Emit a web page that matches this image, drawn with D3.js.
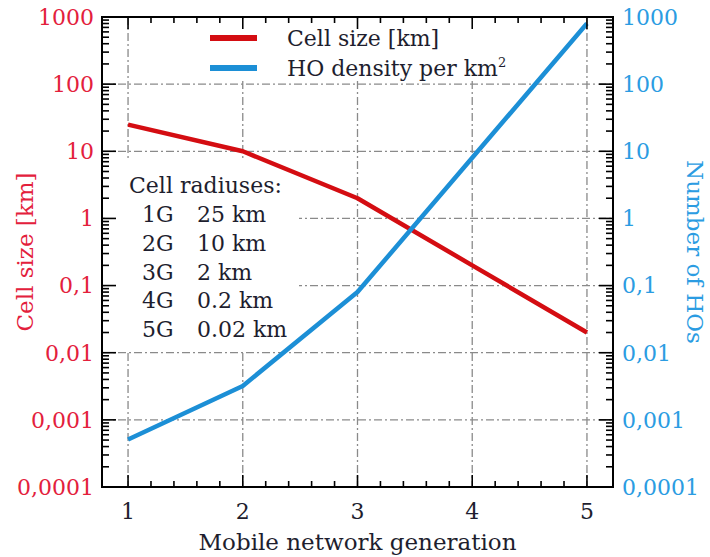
<!DOCTYPE html>
<html>
<head>
<meta charset="utf-8">
<script src="https://cdn.jsdelivr.net/npm/d3@7/dist/d3.min.js"></script>
<style>
  html, body { margin: 0; padding: 0; background: #fff; }
  svg { display: block; font-family: "DejaVu Serif", serif; }
</style>
</head>
<body>
<svg id="chart" width="710" height="557"></svg>
<script>
// Mobile network generations and the two plotted series
const generations = [1, 2, 3, 4, 5];
const cellSize = [25, 10, 2, 0.2, 0.02];            // km
const hoDensity = [0.00051, 0.0032, 0.08, 8, 800];  // handovers per km²

// Decade ticks on both log axes and their labels (comma decimal separator)
const yTickValues = [0.0001, 0.001, 0.01, 0.1, 1, 10, 100, 1000];
const yTickLabels = ["0,0001", "0,001", "0,01", "0,1", "1", "10", "100", "1000"];

// Inset table of cell radii
const radiusGens = ["1G", "2G", "3G", "4G", "5G"];
const radiusText = ["25 km", "10 km", "2 km", "0.2 km", "0.02 km"];

const RED = "#d40d12";
const RED_TXT = "#e3203c";
const BLUE = "#1c8fd6";
const BLUE_TXT = "#2b9ce2";
const INK = "#1e1e2e";
const GRID = "#8a8a8a";

const W = 710, H = 557;
const margin = { top: 17, right: 97, bottom: 70, left: 102 };
const iw = W - margin.left - margin.right;
const ih = H - margin.top - margin.bottom;

const svg = d3.select("#chart");
const g = svg.append("g").attr("transform", `translate(${margin.left},${margin.top})`);

const x = d3.scaleLinear().domain([0.773, 5.227]).range([0, iw]);
const y = d3.scaleLog().domain([0.0001, 1000]).range([ih, 0]);

// Dash-dot grid at each integer generation and each decade
g.append("g").selectAll("line").data(generations).join("line")
  .attr("x1", d => x(d)).attr("x2", d => x(d))
  .attr("y1", 0).attr("y2", ih)
  .attr("stroke", GRID).attr("stroke-width", 1.3)
  .attr("stroke-dasharray", "8,3,2,3");
g.append("g").selectAll("line").data(yTickValues.slice(1, -1)).join("line")
  .attr("x1", 0).attr("x2", iw)
  .attr("y1", d => y(d)).attr("y2", d => y(d))
  .attr("stroke", GRID).attr("stroke-width", 1.3)
  .attr("stroke-dasharray", "8,3,2,3");

// White panels behind the legend and the radius table
g.append("rect").attr("x", 195 - margin.left).attr("y", 2)
  .attr("width", 295).attr("height", 62).attr("fill", "#fff");
g.append("rect").attr("x", 3).attr("y", 160 - margin.top)
  .attr("width", 194).attr("height", 190).attr("fill", "#fff");

// Series lines
const line = (vals) => d3.line().x((d, i) => x(generations[i])).y(d => y(d))(vals);
g.append("path").attr("d", line(cellSize))
  .attr("fill", "none").attr("stroke", RED).attr("stroke-width", 4.5)
  .attr("stroke-linejoin", "round");
g.append("path").attr("d", line(hoDensity))
  .attr("fill", "none").attr("stroke", BLUE).attr("stroke-width", 4.5)
  .attr("stroke-linejoin", "round");

// Minor tick positions (2..9 within each decade)
const minorY = [];
for (let e = -4; e < 3; e++) for (let m = 2; m <= 9; m++) minorY.push(m * Math.pow(10, e));
const minorX = d3.range(1, 5.001, 0.2).filter(v => Math.abs(v - Math.round(v)) > 1e-6);

const tickG = g.append("g").attr("stroke", "#000").attr("stroke-width", 1.6);
// bottom and top ticks (pointing inward)
[[ih, -1], [0, 1]].forEach(([yy, dir]) => {
  tickG.append("g").selectAll("line").data(generations).join("line")
    .attr("x1", d => x(d)).attr("x2", d => x(d))
    .attr("y1", yy).attr("y2", yy + dir * 12);
  tickG.append("g").selectAll("line").data(minorX).join("line")
    .attr("x1", d => x(d)).attr("x2", d => x(d))
    .attr("y1", yy).attr("y2", yy + dir * 6);
});
// left and right ticks (pointing inward)
[[0, 1], [iw, -1]].forEach(([xx, dir]) => {
  tickG.append("g").selectAll("line").data(yTickValues).join("line")
    .attr("y1", d => y(d)).attr("y2", d => y(d))
    .attr("x1", xx).attr("x2", xx + dir * 14);
  tickG.append("g").selectAll("line").data(minorY).join("line")
    .attr("y1", d => y(d)).attr("y2", d => y(d))
    .attr("x1", xx).attr("x2", xx + dir * 7);
});

// Frame
g.append("rect").attr("x", 0).attr("y", 0).attr("width", iw).attr("height", ih)
  .attr("fill", "none").attr("stroke", "#000").attr("stroke-width", 2);

// Tick labels
const fs = 22;
g.append("g").selectAll("text").data(generations).join("text")
  .attr("x", d => x(d)).attr("y", ih + 32)
  .attr("text-anchor", "middle").attr("font-size", fs).attr("fill", INK)
  .text(d => d);
g.append("g").selectAll("text").data(yTickValues).join("text")
  .attr("x", -8).attr("y", d => y(d)).attr("dy", "0.36em")
  .attr("text-anchor", "end").attr("font-size", fs).attr("fill", RED_TXT)
  .text((d, i) => yTickLabels[i]);
g.append("g").selectAll("text").data(yTickValues).join("text")
  .attr("x", iw + 9).attr("y", d => y(d)).attr("dy", "0.36em")
  .attr("text-anchor", "start").attr("font-size", fs).attr("fill", BLUE_TXT)
  .text((d, i) => yTickLabels[i]);

// Axis titles
svg.append("text")
  .attr("transform", `translate(33,${margin.top + ih / 2}) rotate(-90)`)
  .attr("text-anchor", "middle").attr("font-size", 23).attr("fill", RED_TXT)
  .text("Cell size [km]");
svg.append("text")
  .attr("transform", `translate(687,${margin.top + ih / 2}) rotate(90)`)
  .attr("text-anchor", "middle").attr("font-size", 23).attr("fill", BLUE_TXT)
  .text("Number of HOs");
svg.append("text")
  .attr("x", margin.left + x(3)).attr("y", 550)
  .attr("text-anchor", "middle").attr("font-size", 23).attr("fill", INK)
  .text("Mobile network generation");

// Legend
const legend = svg.append("g");
const legendItems = [
  { color: RED, y: 38 },
  { color: BLUE, y: 68 }
];
legend.selectAll("line").data(legendItems).join("line")
  .attr("x1", 210).attr("x2", 257)
  .attr("y1", d => d.y).attr("y2", d => d.y)
  .attr("stroke", d => d.color).attr("stroke-width", 6);
legend.append("text").attr("x", 287).attr("y", 46)
  .attr("font-size", fs).attr("fill", INK).text("Cell size [km]");
const t2 = legend.append("text").attr("x", 287).attr("y", 76)
  .attr("font-size", fs).attr("fill", INK);
t2.append("tspan").text("HO density per km");
t2.append("tspan").attr("font-size", 13).attr("dy", -9).text("2");

// Radius table
const table = svg.append("g").attr("font-size", fs).attr("fill", INK);
table.append("text").attr("x", 129).attr("y", 193).text("Cell radiuses:");
table.selectAll("text.gen").data(radiusGens).join("text").attr("class", "gen")
  .attr("x", 142).attr("y", (d, i) => 222 + i * 28.8).text(d => d);
table.selectAll("text.val").data(radiusText).join("text").attr("class", "val")
  .attr("x", 197).attr("y", (d, i) => 222 + i * 28.8).text(d => d);
</script>
</body>
</html>
